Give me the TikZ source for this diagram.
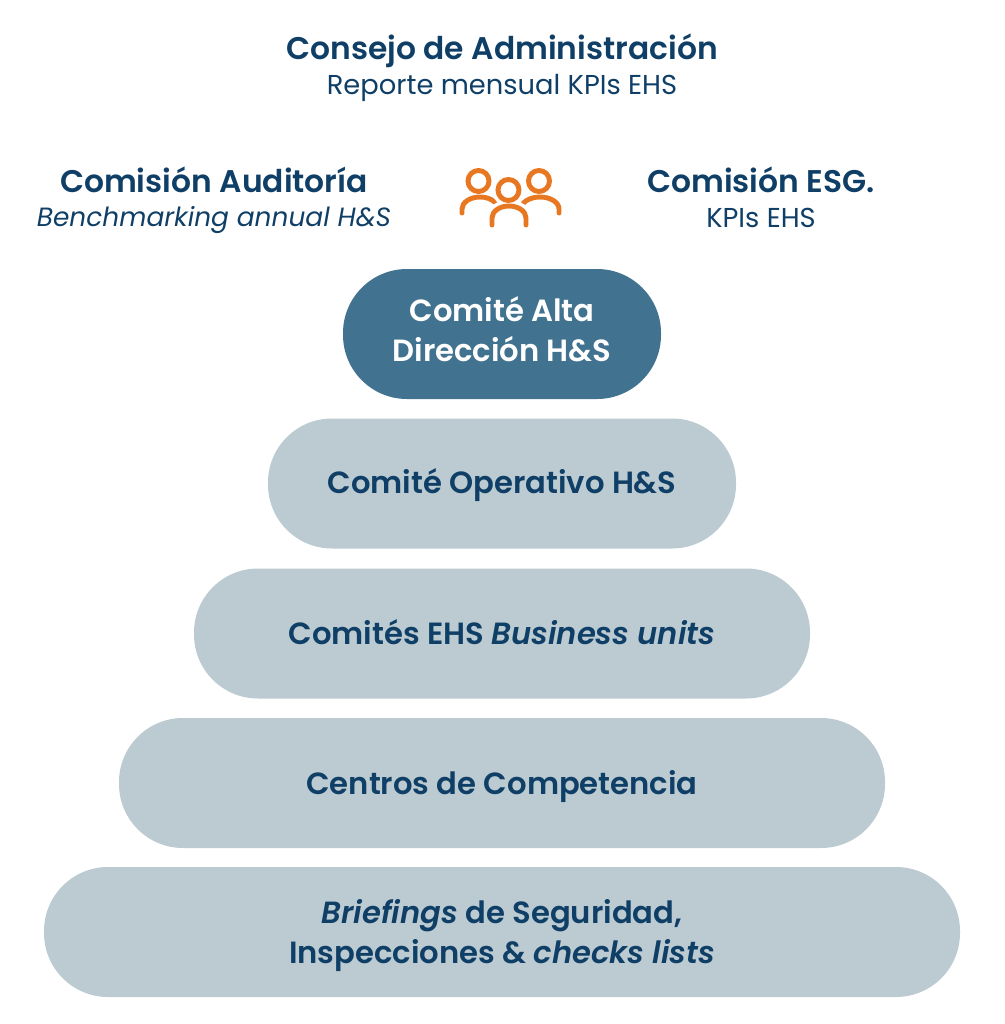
\documentclass[tikz,border=0pt]{standalone}
\usepackage{fontspec}
\setmainfont{Poppins}[BoldFont={Poppins SemiBold}, BoldItalicFont={Poppins SemiBold Italic}]
\definecolor{navy}{HTML}{0F3F66}
\definecolor{darkbox}{HTML}{41728F}
\definecolor{lightbox}{HTML}{BCCBD1}
\definecolor{orng}{HTML}{E87722}
\begin{document}
\begin{tikzpicture}[x=0.75pt,y=-0.75pt,
  level/.style={rounded corners=48pt, minimum height=97.5pt, inner sep=0pt, fill=lightbox},
  toplevel/.style={level, fill=darkbox},
  boxtxt/.style={inner sep=0pt, align=center, font=\fontsize{23}{30}\selectfont\bfseries, text=navy},
  headtxt/.style={font=\fontsize{23.5}{28}\selectfont\bfseries, text=navy, inner sep=0pt},
  subtxt/.style={font=\fontsize{20.5}{24}\selectfont, text=navy, inner sep=0pt},
  person/.style={draw=orng, line width=3.7pt, line cap=round},
  mask/.style={draw=white, line width=9pt}]
\useasboundingbox (0,0) rectangle (1005,1024);
\node[headtxt] (consejo) at (502,51) {Consejo de Administración};
\node[subtxt] (reporte) at (502,88) {Reporte mensual KPIs EHS};
\node[headtxt] (audit) at (214,180) {Comisión Auditoría};
\node[subtxt, font=\fontsize{19.8}{24}\selectfont\itshape] (bench) at (214,220) {Benchmarking annual H\&S};
\node[headtxt] (esg) at (761,180) {Comisión ESG.};
\node[subtxt] (kpis) at (761,218) {KPIs EHS};
% icon
\coordinate (icon) at (509,195);
\draw[person] (478.5,181) circle (10.5);
\draw[person] (539,181) circle (10.5);
\draw[person] (462,213) -- (462,209) arc[start angle=180, end angle=0, x radius=13.5pt, y radius=9pt];
\draw[person] (559,213) -- (559,209) arc[start angle=0, end angle=180, x radius=14.25pt, y radius=9pt];
\draw[mask] (508.5,190) circle (10.5);
\draw[mask] (492,225) -- (492,218) arc[start angle=180, end angle=0, x radius=12.75pt, y radius=9pt] -- (526,225);
\draw[person] (492,225) -- (492,218) arc[start angle=180, end angle=0, x radius=12.75pt, y radius=9pt] -- (526,225);
\draw[person] (508.5,190) circle (10.5);
% levels
\node[toplevel, minimum width=238.5pt] (alta) at (502,334) {};
\node[level, minimum width=351pt] (oper) at (502,483.5) {};
\node[level, minimum width=462pt] (bu) at (502,633.5) {};
\node[level, minimum width=574.5pt] (centros) at (502,783) {};
\node[level, minimum width=687pt] (brief) at (502,932) {};
\node[boxtxt, text=white] (altat) at ([yshift=3.75pt]alta.center) {Comité Alta\\Dirección H\&S};
\node[boxtxt] (opert) at ([yshift=-1.1pt]oper.center) {Comité Operativo H\&S};
\node[boxtxt] (but) at ([yshift=1.1pt]bu.center) {Comités EHS \textit{Business units}};
\node[boxtxt] (centrost) at ([yshift=-3pt]centros.center) {Centros de Competencia};
\node[boxtxt] (brieft) at ([yshift=-3pt]brief.center) {\textit{Briefings} de Seguridad,\\Inspecciones \& \textit{checks lists}};
\end{tikzpicture}
\end{document}
